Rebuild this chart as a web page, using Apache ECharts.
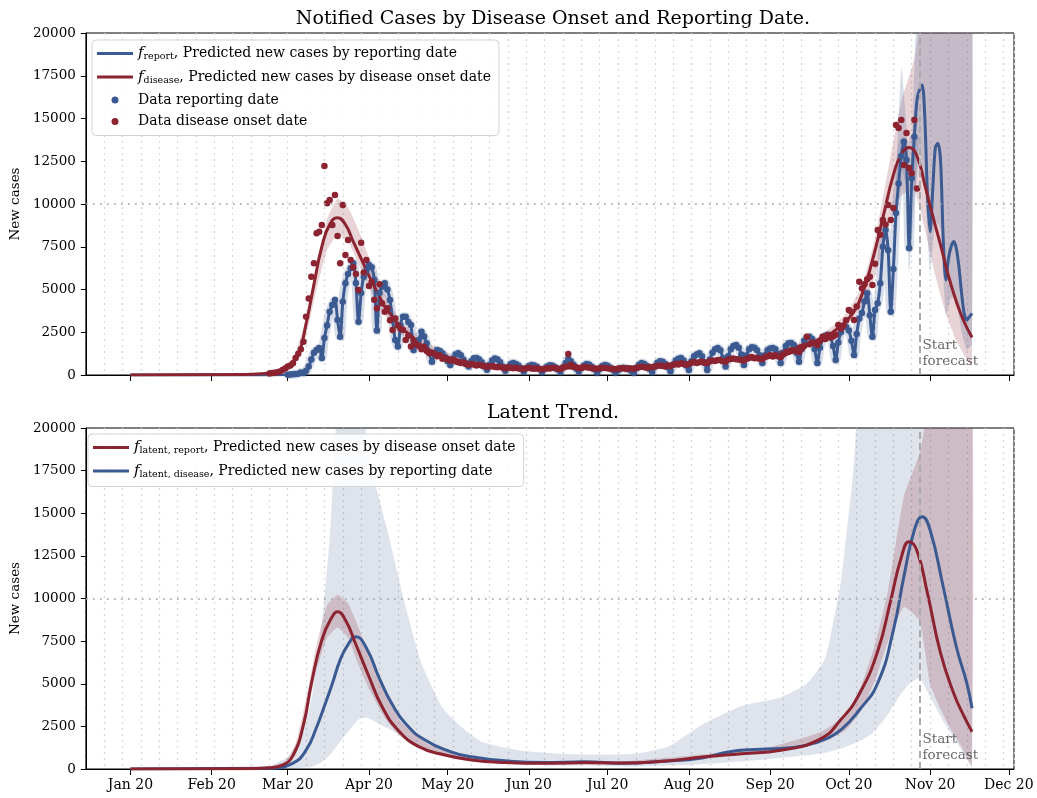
<!DOCTYPE html>
<html><head><meta charset="utf-8">
<script src="https://cdn.jsdelivr.net/npm/echarts@6/dist/echarts.min.js"></script>
<style>html,body{margin:0;padding:0;background:#fff}#chart{width:1037px;height:798px}</style>
</head><body><div id="chart"></div>
<script>
// x values are day indices counted from Sun 15 Dec 2019 (day 0)
const monthTickDays = [17, 48, 77, 108, 138, 169, 199, 230, 261, 291, 322, 352];
const monthTickLabels = ['Jan 20','Feb 20','Mar 20','Apr 20','May 20','Jun 20','Jul 20','Aug 20','Sep 20','Oct 20','Nov 20','Dec 20'];
const forecastStartDay = 318;

// reported cases (blue dots), daily from day 77 (1 Mar)
const reportObsStart = 77;
const reportObs = [
  20, 30, 40, 60, 80, 150, 120,
  250, 500, 900, 1300, 1460, 1580, 990,
  2160, 2900, 3700, 4100, 4390, 3220, 2240,
  4290, 5360, 5900, 6240, 6530, 5380, 3120,
  4790, 5750, 6100, 6430, 6300, 5560, 2600,
  4800, 5160, 5360, 5000, 4390, 3200, 2050,
  1660, 2900, 3410, 3410, 3100, 2920, 1460,
  1850, 2050, 2530, 2250, 1850, 1300, 780,
  1200, 1460, 1400, 1270, 1050, 800, 585,
  950, 1200, 1270, 1150, 900, 650, 490,
  800, 975, 990, 900, 750, 500, 300,
  600, 850, 960, 900, 750, 500, 250,
  450, 650, 700, 650, 550, 400, 200,
  400, 520, 580, 560, 480, 350, 180,
  380, 500, 570, 540, 450, 320, 170,
  450, 700, 930, 800, 600, 380, 200,
  400, 560, 640, 600, 480, 330, 150,
  350, 520, 580, 540, 430, 300, 140,
  280, 380, 420, 400, 330, 250, 130,
  400, 600, 700, 650, 520, 350, 180,
  500, 720, 810, 780, 650, 450, 220,
  600, 850, 950, 990, 850, 550, 290,
  800, 1100, 1200, 1270, 1100, 700, 290,
  900, 1300, 1500, 1580, 1450, 1000, 490,
  1100, 1500, 1700, 1750, 1600, 1200, 585,
  1150, 1500, 1620, 1600, 1450, 1150, 700,
  1150, 1450, 1550, 1580, 1500, 1200, 700,
  1300, 1700, 1850, 1870, 1750, 1300, 780,
  1500, 2000, 2200, 2240, 2100, 1500, 700,
  1600, 2100, 2300, 2340, 2200, 1700, 880,
  1900, 2500, 2820, 2800, 2600, 2000, 1170,
  2400, 3300, 3620, 4300, 4780, 3500, 2240,
  3800, 4200, 5360, 7500, 8480, 7300, 3700,
  6200, 9470, 11200, 12800, 13640, 12570, 7430,
  11500, 13940
];
// f_report continuation (line only), daily from day 317
const reportFcStart = 317;
const reportFc = [16080, 16700, 16960, 15000, 10500, 8380, 10820, 13300, 13550, 12500, 8000,
  5560, 6800, 7500, 7800, 7400, 6330, 4800, 3600, 3220, 3400, 3600];
const reportLeadDays = [17, 60, 76];
const reportLeadValues = [0, 0, 10];

// disease onset cases (red dots), daily from day 70
const onsetObsStart = 70;
const onsetObs = [
  90, 110, 130, 160, 200, 290, 380,
  490, 560, 680, 990, 1250, 1500, 1950,
  3410, 4480, 5750, 6530, 8290, 8380, 8770,
  12220, 10040, 10230, 8770, 10530, 8130, 6530,
  9940, 7020, 7900, 6730, 6300, 5900, 4970,
  7740, 6000, 6730, 5200, 5460, 4400, 3900,
  5300, 4200, 3700, 3900, 3200, 2630, 3300,
  2900, 2700, 2630, 2050, 2300, 1660, 2000,
  1800, 1700, 1500, 1650, 1400, 1270, 1300,
  1250, 1100, 1150, 950, 1000, 900, 850,
  900, 800, 750, 700, 750, 650, 600,
  650, 620, 560, 600, 550, 520, 480,
  500, 520, 470, 450, 480, 430, 400,
  450, 420, 400, 430, 380, 360, 350,
  400, 420, 380, 360, 400, 350, 330,
  370, 400, 380, 420, 400, 380, 350,
  420, 500, 1230, 600, 480, 450, 400,
  430, 470, 450, 420, 400, 380, 360,
  400, 430, 410, 390, 370, 360, 340,
  380, 400, 390, 370, 400, 380, 360,
  420, 450, 480, 460, 430, 470, 450,
  500, 540, 560, 530, 500, 550, 520,
  600, 650, 620, 680, 640, 600, 650,
  720, 760, 700, 740, 780, 720, 700,
  800, 850, 820, 880, 860, 800, 780,
  900, 940, 960, 920, 900, 870, 850,
  950, 1000, 1050, 980, 1000, 950, 920,
  1050, 1100, 1150, 1080, 1150, 1100, 1050,
  1200, 1300, 1350, 1400, 1450, 1400, 1350,
  1550, 1700, 2240, 1800, 1900, 1850, 1750,
  2000, 2240, 2100, 2340, 2200, 2250, 2350,
  2920, 2700, 2900, 3200, 3800, 3700, 3220,
  4000, 5460, 5070, 5300, 5600, 5750, 5260,
  6500, 8480, 8200, 9060, 8800, 9940, 9060,
  9770, 14620, 14440, 14910, 12280, 14150, 12100,
  11800, 14910, 10900
];

// f_disease (top red line)
const fDiseaseDays = [17, 60, 70, 75, 78, 81, 84, 87, 90, 93, 96, 99, 102, 105, 108, 111, 114, 117, 120, 124,
  128, 132, 136, 140, 145, 150, 160, 170, 185, 200, 215, 230, 245, 260, 270, 280, 287, 292, 296, 300,
  304, 308, 311, 314, 317, 320, 323, 326, 329, 332, 335, 338];
const fDiseaseValues = [0, 30, 100, 230, 600, 1150, 3000, 5300, 7500, 8800, 9200, 8800, 7800, 6800, 5800, 4900, 4000, 3400, 2800, 2300,
  1750, 1400, 1150, 950, 780, 650, 500, 430, 410, 400, 470, 720, 950, 1150, 1600, 2100, 2750, 3500, 4700, 6700,
  9200, 11700, 12900, 13300, 12800, 11100, 9300, 7600, 5800, 4300, 3100, 2200];
// uncertainty band of f_disease
const diseaseBandDays = [70, 76, 80, 84, 88, 92, 96, 100, 104, 108, 114, 120, 130, 145, 170, 200, 230, 260, 280, 290,
  296, 301, 306, 311, 316, 320, 324, 328, 332, 336, 338];
const diseaseBandLower = [50, 250, 800, 2300, 5000, 7300, 8200, 7800, 6500, 5100, 3500, 2400, 1450, 650, 350, 330, 620, 1000, 1850, 2900,
  4000, 5800, 8500, 10500, 10800, 8500, 5800, 3600, 2000, 900, 500];
const diseaseBandUpper = [150, 450, 1300, 3300, 6200, 9100, 10300, 9800, 8500, 6900, 4800, 3200, 1900, 900, 520, 480, 800, 1300, 2300, 3600,
  5200, 8000, 12000, 16000, 18500, 23000, 26000, 26000, 26000, 26000, 26000];
// forecast band of f_report
const reportFcBandDays = [309, 311, 313, 314, 316, 318, 320, 322, 324, 326, 328, 330, 332, 334, 336, 338];
const reportFcBandLower = [8500, 12000, 11000, 6000, 10000, 13000, 11000, 6000, 9000, 8500, 3500, 4500, 4500, 2500, 1500, 1800];
const reportFcBandUpper = [11000, 18000, 14500, 9000, 18000, 26000, 26000, 26000, 26000, 26000, 26000, 26000, 26000, 26000, 26000, 26000];

// latent trends (bottom panel)
const latentReportDays = [17, 60, 70, 75, 79, 83, 86, 90, 94, 96, 99, 103, 108, 113, 119, 127, 137, 147, 160, 175,
  190, 205, 220, 235, 250, 265, 280, 288, 295, 302, 307, 311, 314, 317, 321, 326, 331, 335, 338];
const latentReportValues = [0, 20, 80, 230, 800, 2600, 5000, 7570, 8950, 9220, 8740, 7300, 5410, 3650, 2290, 1310, 820, 530, 380, 330,
  380, 350, 450, 700, 900, 1100, 1750, 2900, 4400, 6900, 9900, 12400, 13330, 12800, 10300, 6790, 4440, 3070, 2190];
const latentDiseaseDays = [17, 70, 79, 84, 88, 91, 94, 97, 100, 103, 107, 112, 117, 122, 129, 139, 147, 160, 175, 190,
  205, 220, 235, 245, 255, 265, 275, 282, 288, 295, 302, 308, 312, 316, 319, 322, 327, 332, 336, 338];
const latentDiseaseValues = [0, 40, 350, 1110, 2450, 3700, 5000, 6400, 7300, 7760, 7100, 5300, 3750, 2650, 1730, 1020, 720, 480, 380, 420,
  330, 450, 650, 1000, 1150, 1200, 1400, 1750, 2290, 3460, 5030, 8150, 11280, 14020, 14800, 14020, 10690, 7170, 5030, 3560];
const latentReportBandDays = [70, 76, 80, 84, 88, 92, 96, 100, 104, 108, 114, 120, 130, 145, 170, 200, 230, 260, 280, 290,
  296, 301, 306, 312, 318, 322, 326, 330, 334, 338];
const latentReportBandLower = [50, 200, 800, 2900, 5800, 7700, 8300, 7700, 6100, 4700, 3000, 1900, 1000, 480, 280, 260, 550, 950, 1500, 2300,
  3500, 5200, 7500, 9500, 8700, 5000, 3500, 2300, 1300, 200];
const latentReportBandUpper = [120, 450, 1500, 4100, 7300, 9600, 10200, 9700, 8300, 6600, 4500, 2800, 1500, 750, 430, 400, 780, 1250, 2150, 3200,
  5000, 7300, 10500, 16000, 18500, 22000, 26000, 26000, 26000, 26000];
const latentDiseaseBandDays = [70, 78, 82, 86, 90, 93, 95, 97, 104, 107, 110, 115, 122, 128, 136, 143, 151, 165, 180, 195,
  210, 222, 235, 250, 265, 275, 282, 288, 293, 296, 300, 305, 310, 314, 318, 322, 327, 332, 336, 338];
const latentDiseaseBandUpper = [100, 800, 2000, 4000, 8500, 13500, 19000, 23000, 23000, 19500, 17000, 14000, 9500, 6200, 3600, 2500, 1600, 1100, 900, 850,
  900, 1300, 2600, 3700, 4200, 5000, 6500, 11000, 18000, 26000, 26000, 26000, 26000, 26000, 26000, 26000, 26000, 26000, 26000, 26000];
const latentDiseaseBandLower = [0, 20, 60, 120, 400, 800, 1200, 1600, 2900, 3000, 2800, 2400, 1800, 1250, 800, 550, 400, 250, 200, 180,
  150, 200, 280, 450, 650, 800, 950, 1200, 1500, 1700, 2100, 3000, 4200, 5000, 5340, 4240, 2800, 1600, 600, 130];

const FONT = "'DejaVu Serif', 'Liberation Serif', serif";
const BLUE = '#3b5a91', RED = '#8c2331';
const BLUE_BAND = 'rgba(59,90,145,0.2)', RED_BAND = 'rgba(140,35,49,0.2)';
const LINE_ICON = 'path://M0,0 L36,0 L36,3 L0,3 Z';

function pairs(days, vals) { return days.map((d, i) => [d, vals[i]]); }
function daily(start, vals) { return vals.map((v, i) => [start + i, v]); }
// filled band between lower and upper, drawn as one polygon through the axes' own coordinates
function band(name, days, lower, upper, color, xi, yi, z) {
  return { name: name, type: 'custom', xAxisIndex: xi, yAxisIndex: yi, silent: true, z: z,
    data: days.map((d, i) => [d, lower[i], upper[i]]),
    encode: { x: 0, y: [1, 2] },
    renderItem: function (params, api) {
      if (params.dataIndex !== 0) return null;
      const top = days.map((d, i) => api.coord([d, upper[i]]));
      const bot = days.map((d, i) => api.coord([d, lower[i]])).reverse();
      const cs = params.coordSys;
      return { type: 'polygon', shape: { points: top.concat(bot), smooth: 0.15 }, style: { fill: color },
        clipPath: { type: 'rect', shape: { x: cs.x, y: cs.y, width: cs.width, height: cs.height } } };
    } };
}
function annot(xi, yi) {
  return { name: 'annot' + xi, type: 'scatter', xAxisIndex: xi, yAxisIndex: yi, data: [[forecastStartDay, 0]],
    symbolSize: 0.1, silent: true, z: 6,
    label: { show: true, formatter: 'Start\nforecast', position: [3, -37], align: 'left', verticalAlign: 'top',
      fontFamily: FONT, fontSize: 13.5, lineHeight: 16, color: '#444' },
    markLine: { silent: true, symbol: ['none', 'none'], label: { show: false }, animation: false,
      data: [ { yAxis: 10000, lineStyle: { type: [2, 5], color: '#aaa', width: 1.5 } },
              { xAxis: forecastStartDay, lineStyle: { type: [7, 4], color: '#aaa', width: 2 } } ] } };
}

const reportLine = pairs(reportLeadDays, reportLeadValues).concat(daily(reportObsStart, reportObs), daily(reportFcStart, reportFc));

const legendText = {
  'f_report': '{f|f}{s|report}{t|, Predicted new cases by reporting date}',
  'f_disease': '{f|f}{s|disease}{t|, Predicted new cases by disease onset date}',
  'Data reporting date': '{t|Data reporting date}',
  'Data disease onset date': '{t|Data disease onset date}',
  'f_latent_report': '{f|f}{s|latent, report}{t|, Predicted new cases by disease onset date}',
  'f_latent_disease': '{f|f}{s|latent, disease}{t|, Predicted new cases by reporting date}'
};
const RICH = {
  t: { fontFamily: FONT, fontSize: 14, color: '#000' },
  f: { fontFamily: FONT, fontSize: 15, fontStyle: 'italic', color: '#000' },
  s: { fontFamily: FONT, fontSize: 9.5, color: '#000', padding: [7, 0, 0, 0] }
};
function legendCfg(items, left, top) {
  return { data: items, orient: 'vertical', left: left, top: top, itemWidth: 36, itemHeight: 7, itemGap: 7.5,
    padding: [6, 8, 7, 5], backgroundColor: 'rgba(255,255,255,0.85)', borderColor: '#d3d3d3', borderWidth: 1, borderRadius: 4,
    selectedMode: false, formatter: n => legendText[n],
    textStyle: { fontFamily: FONT, fontSize: 14, color: '#000', rich: RICH } };
}

function mainX(gi, showLabels) {
  return { type: 'value', gridIndex: gi, min: 0, max: 354, position: 'bottom',
    axisLine: { show: true, onZero: false, lineStyle: { color: '#000', width: 1 } },
    axisTick: { show: true, customValues: monthTickDays, length: 6, lineStyle: { color: '#000', width: 1 } },
    axisLabel: { show: showLabels, customValues: monthTickDays, margin: 9, fontFamily: FONT, fontSize: 14, color: '#000',
      formatter: v => { const i = monthTickDays.indexOf(Math.round(v)); return i >= 0 ? monthTickLabels[i] : ''; } },
    splitLine: { show: false } };
}
function weekX(gi) {
  return { type: 'value', gridIndex: gi, min: 0, max: 354, interval: 7, position: 'top',
    axisLine: { show: false }, axisTick: { show: false }, axisLabel: { show: false },
    splitLine: { show: true, lineStyle: { type: [2, 4], color: '#d8d8d8', width: 1.3 } } };
}
function yAx(gi) {
  return { type: 'value', gridIndex: gi, min: 0, max: 20000, interval: 2500,
    name: 'New cases', nameLocation: 'middle', nameGap: 60, nameTextStyle: { fontFamily: FONT, fontSize: 13.5, color: '#000' },
    axisLine: { show: true, lineStyle: { color: '#000', width: 1 } },
    axisTick: { show: true, length: 5, lineStyle: { color: '#000' } },
    axisLabel: { margin: 10, fontFamily: FONT, fontSize: 13.5, color: '#000', formatter: v => String(v) },
    splitLine: { show: false } };
}

const series = [
  // ---------- top panel ----------
  band('rb1', diseaseBandDays, diseaseBandLower, diseaseBandUpper, RED_BAND, 0, 0, 1),
  band('bb1', reportFcBandDays, reportFcBandLower, reportFcBandUpper, BLUE_BAND, 0, 0, 1),
  { name: 'reportHalo', type: 'line', xAxisIndex: 0, yAxisIndex: 0, data: daily(reportObsStart, reportObs),
    symbol: 'none', smooth: 0.3, silent: true, z: 1, lineStyle: { color: 'rgba(59,90,145,0.2)', width: 9 } },
  annot(0, 0),
  { name: 'f_report', type: 'line', xAxisIndex: 0, yAxisIndex: 0, data: reportLine, symbol: 'none', smooth: 0.3,
    color: BLUE, lineStyle: { color: BLUE, width: 3 }, z: 3 },
  { name: 'f_disease', type: 'line', xAxisIndex: 0, yAxisIndex: 0, data: pairs(fDiseaseDays, fDiseaseValues), symbol: 'none', smooth: 0.5,
    color: RED, lineStyle: { color: RED, width: 3 }, z: 3 },
  { name: 'Data reporting date', type: 'scatter', xAxisIndex: 0, yAxisIndex: 0, data: daily(reportObsStart, reportObs),
    symbolSize: 6.5, itemStyle: { color: BLUE, opacity: 1 }, z: 4 },
  { name: 'Data disease onset date', type: 'scatter', xAxisIndex: 0, yAxisIndex: 0, data: daily(onsetObsStart, onsetObs),
    symbolSize: 6.5, itemStyle: { color: RED, opacity: 1 }, z: 4 },
  // ---------- bottom panel ----------
  band('bb2', latentDiseaseBandDays, latentDiseaseBandLower, latentDiseaseBandUpper, 'rgba(59,90,145,0.17)', 2, 1, 1),
  band('rb2', latentReportBandDays, latentReportBandLower, latentReportBandUpper, RED_BAND, 2, 1, 1),
  annot(2, 1),
  { name: 'f_latent_disease', type: 'line', xAxisIndex: 2, yAxisIndex: 1, data: pairs(latentDiseaseDays, latentDiseaseValues),
    symbol: 'none', smooth: 0.5, color: BLUE, lineStyle: { color: BLUE, width: 3 }, z: 3 },
  { name: 'f_latent_report', type: 'line', xAxisIndex: 2, yAxisIndex: 1, data: pairs(latentReportDays, latentReportValues),
    symbol: 'none', smooth: 0.5, color: RED, lineStyle: { color: RED, width: 3 }, z: 3 }
];

const chart = echarts.init(document.getElementById('chart'), null, { renderer: 'canvas' });
chart.setOption({
  animation: false,
  backgroundColor: '#fff',
  title: [
    { text: 'Notified Cases by Disease Onset and Reporting Date.', left: 548, top: 5, textAlign: 'center',
      textStyle: { fontFamily: FONT, fontSize: 19, fontWeight: 'normal', color: '#000' } },
    { text: 'Latent Trend.', left: 548, top: 399, textAlign: 'center',
      textStyle: { fontFamily: FONT, fontSize: 19, fontWeight: 'normal', color: '#000' } }
  ],
  legend: [
    legendCfg([{ name: 'f_report', icon: LINE_ICON }, { name: 'f_disease', icon: LINE_ICON },
               { name: 'Data reporting date', icon: 'circle' }, { name: 'Data disease onset date', icon: 'circle' }], 92, 40),
    legendCfg([{ name: 'f_latent_report', icon: LINE_ICON }, { name: 'f_latent_disease', icon: LINE_ICON }], 88, 434)
  ],
  grid: [
    { left: 83, right: 23, top: 33, height: 342, show: true, borderColor: '#000', borderWidth: 1, backgroundColor: 'transparent' },
    { left: 83, right: 23, top: 428, height: 341, show: true, borderColor: '#000', borderWidth: 1, backgroundColor: 'transparent' }
  ],
  xAxis: [mainX(0, false), weekX(0), mainX(1, true), weekX(1)],
  yAxis: [yAx(0), yAx(1)],
  series: series
});
</script>
</body></html>
